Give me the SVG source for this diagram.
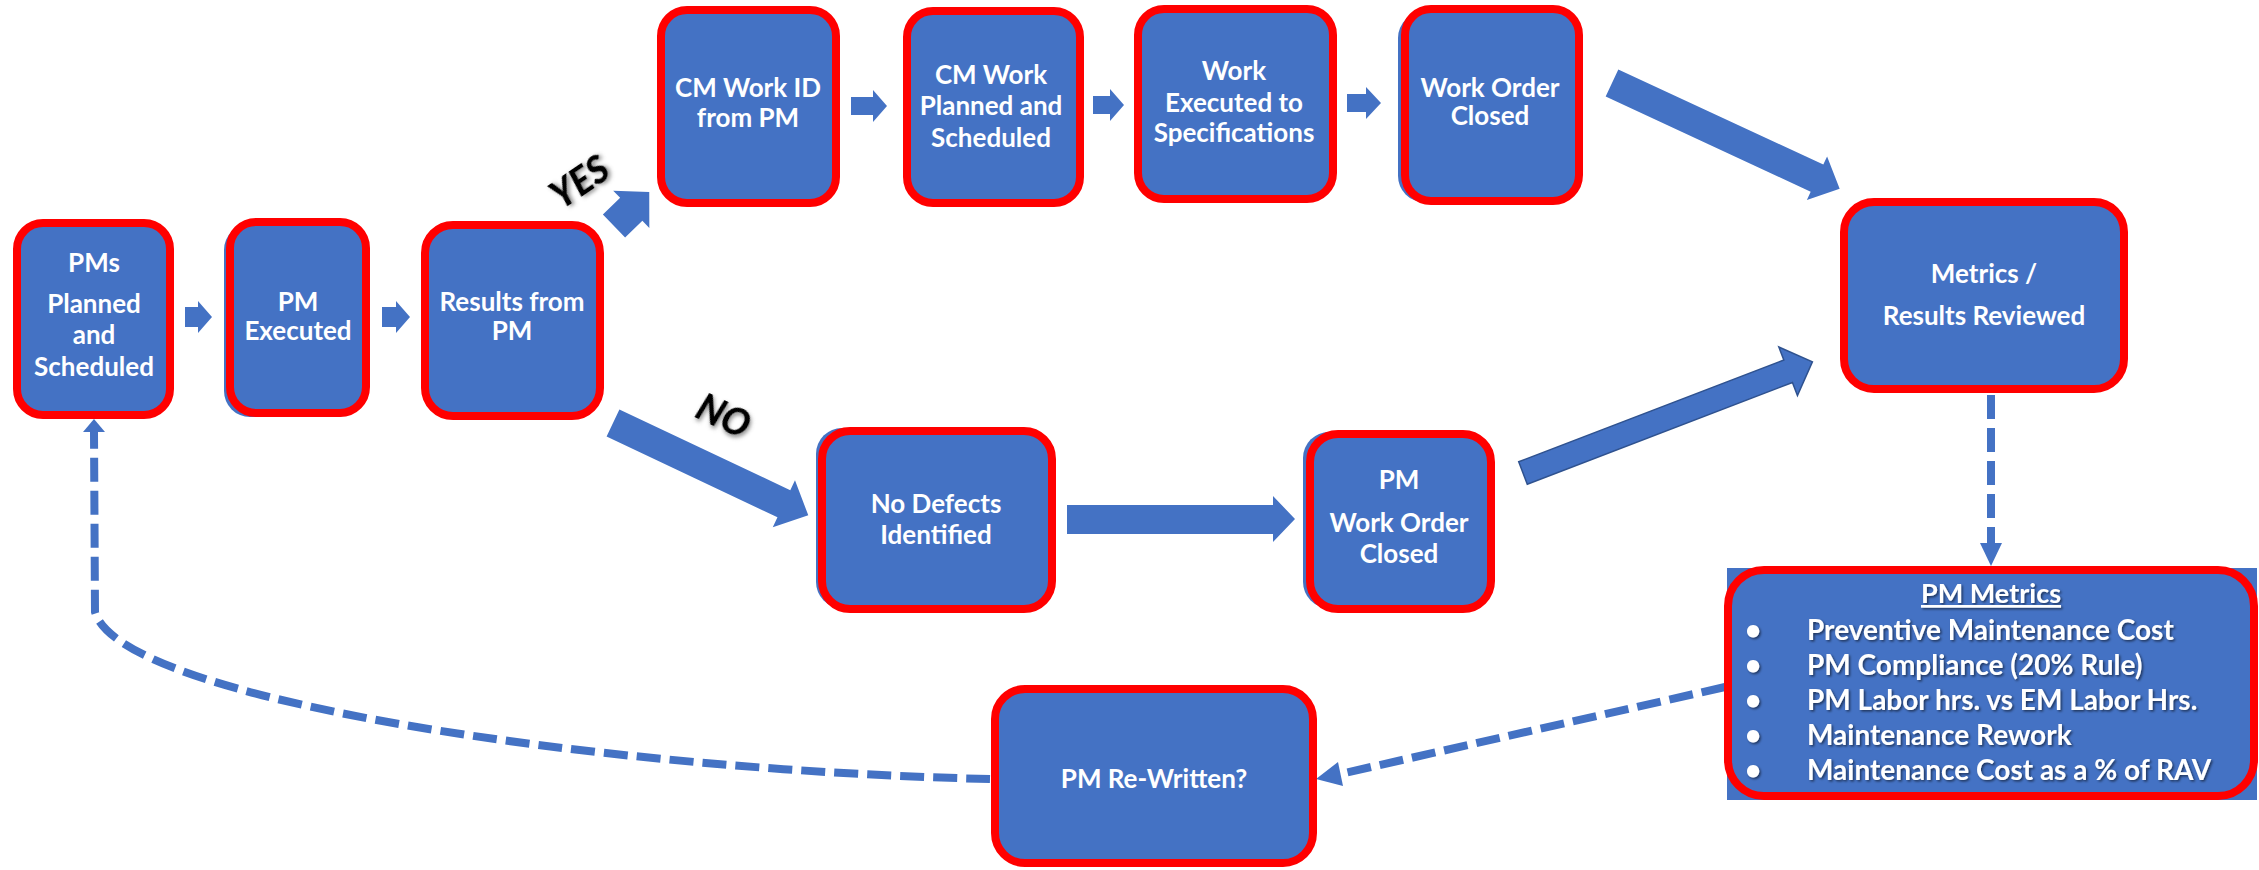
<svg xmlns="http://www.w3.org/2000/svg" width="2259" height="870" viewBox="0 0 2259 870">
  <defs>
    <style>
      .box { fill: #4472C4; stroke: #FF0000; stroke-width: 8; }
      .under { fill: #4472C4; }
      .lbl { font-family: Lato, "Liberation Sans", sans-serif; font-weight: bold; font-size: 26px; fill: #FFFFFF; text-anchor: middle; }
      .met { font-family: Lato, "Liberation Sans", sans-serif; font-weight: bold; font-size: 28px; fill: #FFFFFF; }
      .met-title { font-family: Lato, "Liberation Sans", sans-serif; font-weight: bold; font-size: 27px; fill: #FFFFFF; text-anchor: middle; text-decoration: underline; }
      .arrow { fill: #4472C4; }
      .arrow-ol { fill: #4472C4; stroke: #2F528F; stroke-width: 1.5; }
      .dash { fill: none; stroke: #4472C4; stroke-width: 8; stroke-dasharray: 24 9; }
      .tag { font-family: Lato, "Liberation Sans", sans-serif; font-weight: 900; font-style: italic; font-size: 37px; fill: #000000; text-anchor: middle; }
    </style>
    <filter id="txtShadow" x="-10%" y="-30%" width="120%" height="160%">
      <feDropShadow dx="1.5" dy="1.5" stdDeviation="1" flood-color="#000" flood-opacity="0.55"/>
    </filter>
    <filter id="glow" x="-30%" y="-50%" width="160%" height="200%">
      <feDropShadow dx="2" dy="2" stdDeviation="2" flood-color="#555" flood-opacity="0.7"/>
    </filter>
  </defs>

  <!-- connectors -->
  <g id="connectors">
    <!-- small step arrows, lower row -->
    <polygon class="arrow" points="185,307 198,307 198,301 212,317 198,333 198,327 185,327"/>
    <polygon class="arrow" points="382,307 396,307 396,301 410,317 396,333 396,327 382,327"/>
    <!-- small step arrows, upper row -->
    <polygon class="arrow" points="851,97 873,97 873,90 887,106 873,122 873,115 851,115"/>
    <polygon class="arrow" points="1093,96 1110,96 1110,89 1124,105 1110,121 1110,114 1093,114"/>
    <polygon class="arrow" points="1347,94 1366,94 1366,87 1381,103 1366,119 1366,112 1347,112"/>
    <!-- YES branch -->
    <polygon class="arrow" transform="translate(614,226) rotate(-44)" points="0,-16 24,-16 24,-26 49,0 24,26 24,16 0,16"/>
    <!-- NO branch -->
    <polygon class="arrow" transform="translate(613,423) rotate(25.3)" points="0,-15 189,-15 189,-26 216,0 189,26 189,15 0,15"/>
    <!-- no defects to PM work order closed -->
    <polygon class="arrow" points="1067,505 1273,505 1273,496 1295,519 1273,542 1273,534 1067,534"/>
    <!-- work order closed to metrics -->
    <polygon class="arrow" transform="translate(1612,83) rotate(24.9)" points="0,-15 226,-15 226,-24 251,0 226,24 226,15 0,15"/>
    <!-- PM work order closed to metrics -->
    <polygon class="arrow-ol" transform="translate(1523,473) rotate(-21)" points="0,-12 284,-12 284,-26 310,0 284,26 284,12 0,12"/>
    <!-- metrics to PM metrics -->
    <line class="dash" x1="1991" y1="395" x2="1991" y2="543"/>
    <polygon class="arrow" points="1980,543 2002,543 1991,566"/>
    <!-- PM metrics to PM re-written -->
    <line class="dash" x1="1725" y1="687" x2="1340" y2="774"/>
    <polygon class="arrow" points="1343,786 1338,762 1316,779"/>
    <!-- loop back to start -->
    <path class="dash" d="M 990,779 C 600,770 120,700 95,612 L 94,432"/>
    <polygon class="arrow" points="83,432 105,432 94,419"/>
  </g>

  <g id="label-yes">
    <text class="tag" filter="url(#glow)" transform="translate(587,193) rotate(-34)">YES</text>
  </g>
  <g id="label-no">
    <text class="tag" filter="url(#glow)" transform="translate(718,428) rotate(25)">NO</text>
  </g>

  <g id="pms-planned">
    <rect class="box" x="17" y="223" width="153" height="192" rx="26"/>
    <text class="lbl"><tspan x="94" y="272">PMs</tspan><tspan x="94" y="313">Planned</tspan><tspan x="94" y="344">and</tspan><tspan x="94" y="376">Scheduled</tspan></text>
  </g>

  <g id="pm-executed">
    <rect class="under" x="224" y="224" width="138" height="193" rx="26"/>
    <rect class="box" x="230" y="222" width="136" height="191" rx="26"/>
    <text class="lbl"><tspan x="298" y="311">PM</tspan><tspan x="298" y="340">Executed</tspan></text>
  </g>

  <g id="results-from-pm">
    <rect class="box" x="425" y="225" width="175" height="191" rx="28"/>
    <text class="lbl"><tspan x="512" y="311">Results from</tspan><tspan x="512" y="340">PM</tspan></text>
  </g>

  <g id="cm-work-id">
    <rect class="box" x="661" y="10" width="175" height="193" rx="26"/>
    <text class="lbl"><tspan x="748" y="97">CM Work ID</tspan><tspan x="748" y="127">from PM</tspan></text>
  </g>

  <g id="cm-work-planned">
    <rect class="box" x="907" y="11" width="173" height="192" rx="26"/>
    <text class="lbl"><tspan x="991" y="84">CM Work</tspan><tspan x="991" y="115">Planned and</tspan><tspan x="991" y="147">Scheduled</tspan></text>
  </g>

  <g id="work-executed">
    <rect class="box" x="1138" y="9" width="195" height="190" rx="26"/>
    <text class="lbl"><tspan x="1234" y="80">Work</tspan><tspan x="1234" y="112">Executed to</tspan><tspan x="1234" y="142">Specifications</tspan></text>
  </g>

  <g id="work-order-closed">
    <rect class="under" x="1398" y="12" width="176" height="190" rx="26"/>
    <rect class="box" x="1405" y="9" width="174" height="192" rx="26"/>
    <text class="lbl"><tspan x="1490" y="97">Work Order</tspan><tspan x="1490" y="125">Closed</tspan></text>
  </g>

  <g id="metrics-reviewed">
    <rect class="box" x="1844" y="202" width="280" height="187" rx="30"/>
    <text class="lbl"><tspan x="1984" y="283">Metrics /</tspan><tspan x="1984" y="325">Results Reviewed</tspan></text>
  </g>

  <g id="no-defects">
    <rect class="under" x="816" y="428" width="232" height="180" rx="26"/>
    <rect class="box" x="822" y="431" width="230" height="178" rx="28"/>
    <text class="lbl"><tspan x="936" y="513">No Defects</tspan><tspan x="936" y="544">Identified</tspan></text>
  </g>

  <g id="pm-work-order-closed">
    <rect class="under" x="1303" y="432" width="184" height="176" rx="26"/>
    <rect class="box" x="1310" y="434" width="181" height="175" rx="28"/>
    <text class="lbl"><tspan x="1399" y="489">PM</tspan><tspan x="1399" y="532">Work Order</tspan><tspan x="1399" y="563">Closed</tspan></text>
  </g>

  <g id="pm-metrics">
    <rect class="under" x="1727" y="568" width="530" height="232"/>
    <rect class="box" x="1728" y="570" width="526" height="226" rx="36"/>
    <g filter="url(#txtShadow)">
      <text class="met-title" x="1991" y="603">PM Metrics</text>
      <text class="met"><tspan x="1745" y="640">•</tspan><tspan x="1745" y="675">•</tspan><tspan x="1745" y="710">•</tspan><tspan x="1745" y="745">•</tspan><tspan x="1745" y="780">•</tspan></text>
      <text class="met"><tspan x="1807" y="640">Preventive Maintenance Cost</tspan><tspan x="1807" y="675">PM Compliance (20% Rule)</tspan><tspan x="1807" y="710">PM Labor hrs. vs EM Labor Hrs.</tspan><tspan x="1807" y="745">Maintenance Rework</tspan><tspan x="1807" y="780">Maintenance Cost as a % of RAV</tspan></text>
    </g>
  </g>

  <g id="pm-rewritten">
    <rect class="box" x="995" y="689" width="318" height="174" rx="30"/>
    <text class="lbl" x="1154" y="788">PM Re-Written?</text>
  </g>
</svg>
